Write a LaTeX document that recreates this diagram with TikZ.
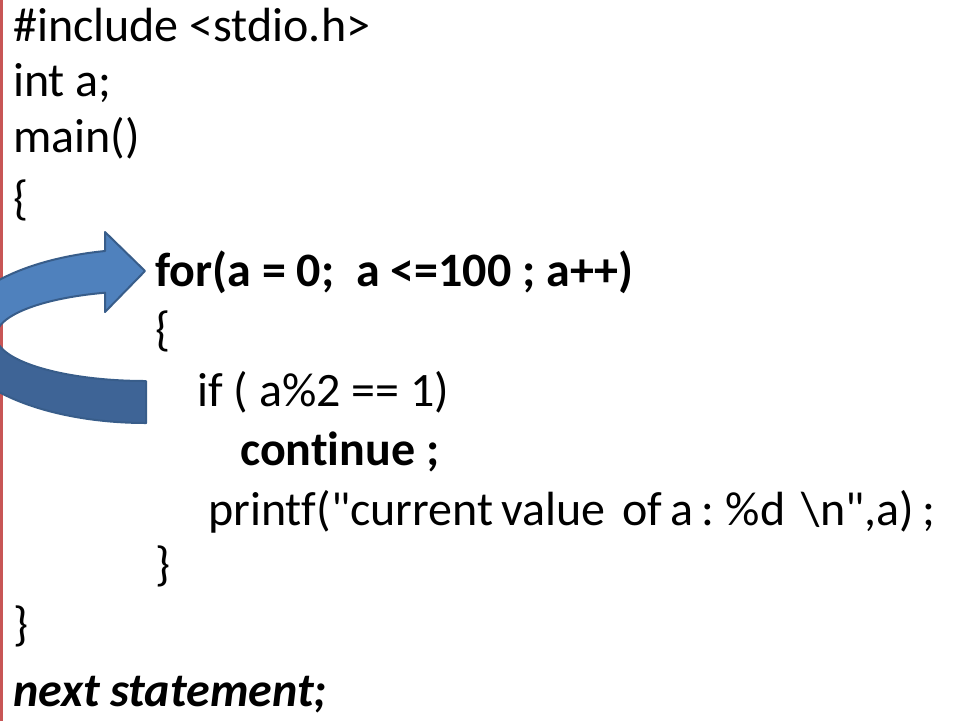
\documentclass[tikz,border=0pt]{standalone}
\usepackage{fontspec}
\setmainfont{Carlito}[Ligatures=NoCommon]
\definecolor{margin}{RGB}{200,86,86}
\definecolor{loopfront}{RGB}{79,129,189}
\definecolor{loopback}{RGB}{62,100,150}
\definecolor{loopedge}{RGB}{56,93,138}
\tikzset{code/.style={anchor=base west,inner sep=0pt,
    font=\fontsize{48}{58}\selectfont}}

\begin{document}
\begin{tikzpicture}
         [x=1pt,y=-1pt,every node/.style={code}]
         \useasboundingbox (0,0) rectangle (957,721);
         \draw[margin, line width=3pt] (1.5,0) -- (1.5,721);
         % the loop arrow, cut at the left border
         \begin{scope}
           \clip (0,0) rectangle (957,721);
           \filldraw[fill=loopback, draw=loopedge, line width=2pt, line join=round]
             (146,381) arc[start angle=90, end angle=180, x radius=150, y radius=45]
             -- (-46,336) arc[start angle=180, end angle=90, x radius=192, y radius=87]
             -- cycle;
           \filldraw[fill=loopfront, draw=loopedge, line width=2pt, line join=round]
             (105.1,251) arc[start angle=257.7, end angle=180, x radius=192, y radius=87]
             -- (-4,336) arc[start angle=180, end angle=254.2, x radius=150, y radius=45]
             -- (105,312) -- (145,271) -- (105,232) -- cycle;
         \end{scope}
         \node (inc) at (13,41) {\#include <stdio.h>};
         \node (var) at (13,96) {int a;};
         \node (main) at (13,152) {main()};
         \node (open) at (13,214) {\{};
         \node (for) at (155,286) {\bfseries for(a = 0; ~a <=100 ; a++)};
         \node (open2) at (155,345) {\{};
         \node (if) at (197,406) {if ( a\%2 == 1)};
         \node (cont) at (240,465) {\bfseries continue ;};
         \node (print) at (208,525) {\spaceskip=0.17em
           printf(\textquotedbl current value ~of a : \%d ~\textbackslash n\textquotedbl,a) ;};
         \node (close2) at (155,580) {\}};
         \node (close) at (13,640) {\}};
         \node (next) at (13,706) {\bfseries\itshape next statement;};
       \end{tikzpicture}
\end{document}
